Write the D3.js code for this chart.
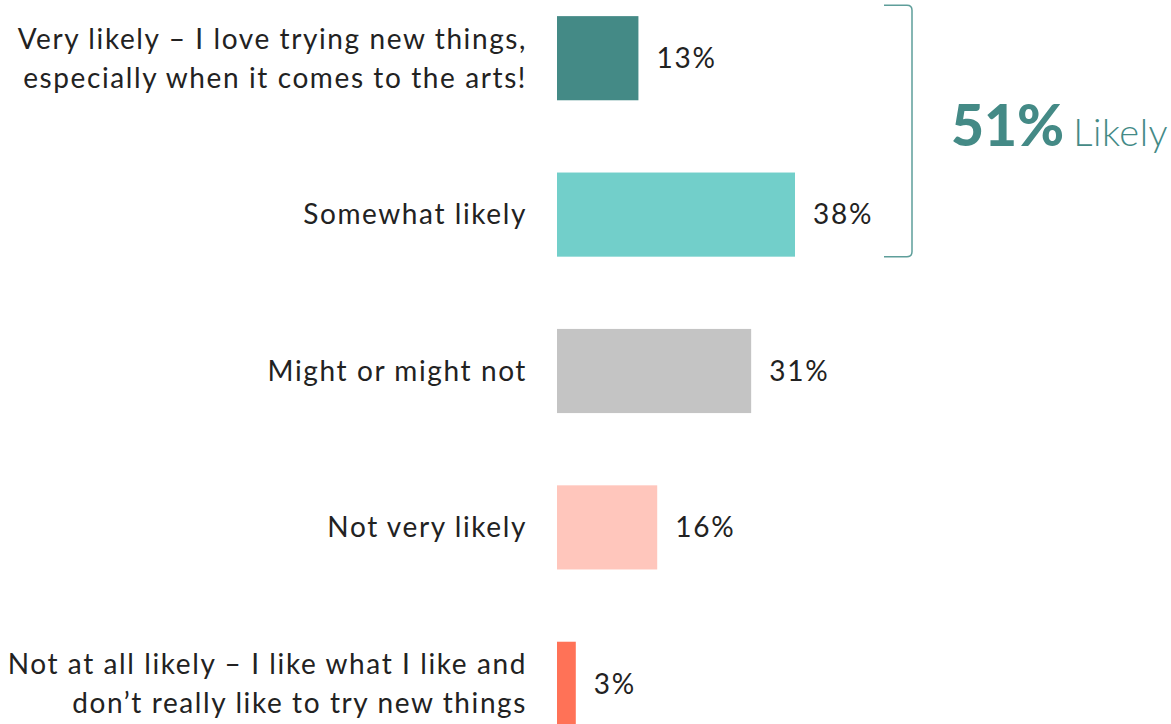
<!DOCTYPE html>
<html>
<head>
<meta charset="utf-8">
<script src="https://cdn.jsdelivr.net/npm/d3@7"></script>
<style>
  body { margin: 0; background: #fff; }
  svg { display: block; font-family: Lato, "Open Sans", sans-serif; }
</style>
</head>
<body>
<svg id="chart" width="1171" height="724"></svg>
<script>
// answers, top to bottom (each label split into display lines)
var categories = [
    ["Very likely \u2013 I love trying new things,", "especially when it comes to the arts!"],
    ["Somewhat likely"],
    ["Might or might not"],
    ["Not very likely"],
    ["Not at all likely \u2013 I like what I like and", "don\u2019t really like to try new things"]
];
var values = [13, 38, 31, 16, 3];
var colors = ["#448a86", "#72cfca", "#c4c4c4", "#ffc6bc", "#ff7257"];
var likelyTotal = "51%";
var likelyLabel = "Likely";

var svg = d3.select('#chart');

var x = d3.scaleLinear()
    .domain([0, 38])
    .range([557, 795]);

var y = d3.scaleBand()
    .domain(d3.range(values.length))
    .range([-20, 762])
    .paddingInner(0.462)
    .paddingOuter(0.231);

var rows = svg.selectAll('.row')
    .data(values)
    .enter()
    .append('g').attr('class', 'row');

rows.append('rect')
    .attr('x', x(0))
    .attr('y', function(d, i){ return y(i); })
    .attr('width', function(d){ return x(d) - x(0); })
    .attr('height', y.bandwidth())
    .style('fill', function(d, i){ return colors[i]; });

rows.append('text')
    .attr('x', function(d){ return x(d) + 18; })
    .attr('y', function(d, i){ return y(i) + y.bandwidth() / 2; })
    .attr('dy', '0.35em')
    .style('font-size', '28px')
    .style('letter-spacing', '1.8px')
    .style('fill', '#222')
    .text(function(d){ return d + '%'; });

// category labels, right aligned left of the bars
var lineH = 39;
rows.append('text')
    .attr('text-anchor', 'end')
    .style('font-size', '28px')
    .style('letter-spacing', '1.6px')
    .style('fill', '#222')
    .each(function(d, i) {
        var lines = categories[i];
        var cy = y(i) + y.bandwidth() / 2;
        var t = d3.select(this);
        lines.forEach(function(line, j) {
            t.append('tspan')
                .attr('x', 527)
                .attr('y', cy + (j - (lines.length - 1) / 2) * lineH)
                .attr('dy', '0.35em')
                .text(line);
        });
    });

// bracket round the two "likely" rows
var bTop = y(0) - 11, bBottom = y(1) + y.bandwidth();
var bx = 912, r = 5;
svg.append('path')
    .attr('d', 'M' + (bx - 28) + ',' + bTop +
        ' L' + (bx - r) + ',' + bTop +
        ' Q' + bx + ',' + bTop + ' ' + bx + ',' + (bTop + r) +
        ' L' + bx + ',' + (bBottom - r) +
        ' Q' + bx + ',' + bBottom + ' ' + (bx - r) + ',' + bBottom +
        ' L' + (bx - 28) + ',' + bBottom)
    .style('fill', 'none')
    .style('stroke', '#5e9e9a')
    .style('stroke-width', '1.5px');

var note = svg.append('text')
    .attr('x', 951)
    .attr('y', (bTop + bBottom) / 2 + 15)
    .style('fill', '#448a86');
note.append('tspan')
    .style('font-size', '57px')
    .style('font-weight', 900)
    .text(likelyTotal);
note.append('tspan')
    .attr('dx', 9)
    .style('font-size', '38px')
    .style('font-weight', 300)
    .style('letter-spacing', '0.5px')
    .text(likelyLabel);
</script>
</body>
</html>
